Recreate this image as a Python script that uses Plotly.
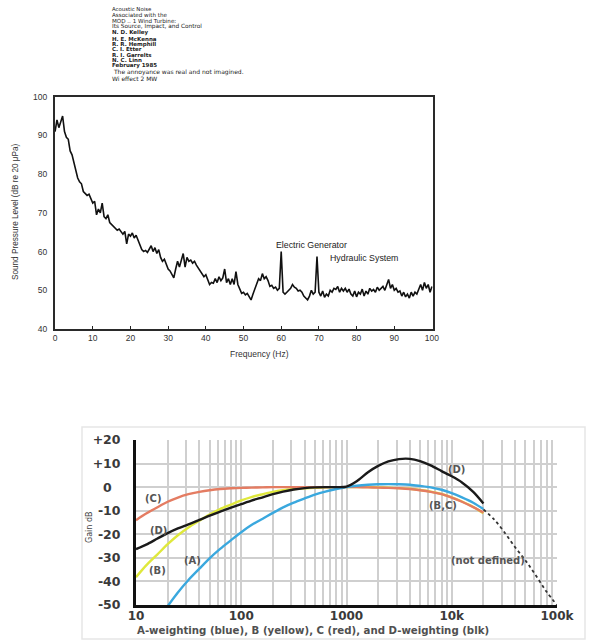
import math
import plotly.graph_objects as go

W, H = 589, 641


def pxx(x):
    return x / W


def pyy(y):
    return 1 - y / H


# ---------------- header text ----------------
header_lines = [
    "Acoustic Noise",
    "Associated with the",
    "MOD .. 1 Wind Turbine:",
    "Its Source, Impact, and Control",
    "N. D. Kelley",
    "H. E. McKenna",
    "R. R. Hemphill",
    "C. I. Etter",
    "R. I. Garrelts",
    "N. C. Linn",
    "February 1985",
    " The annoyance was real and not imagined.",
    "Wi effect 2 MW",
]
header_bold = [False, False, False, False, True, True, True, True, True, True, True, False, False]
header_size = [5.4, 5.6, 5.6, 5.8, 5.5, 5.5, 5.5, 5.5, 5.5, 5.5, 5.5, 6.0, 6.0]
header_y = [9.0, 15.3, 21.2, 27.0, 32.8, 38.5, 44.0, 49.4, 54.8, 60.2, 65.6, 71.6, 78.4]

# ---------------- spectrum (top chart) ----------------
spec_freq = [i * 0.5 for i in range(201)]
spec_level = [
    91, 94, 92, 93.5, 95, 91, 89.5, 89, 86, 85, 83, 80.5, 79, 78, 77.5, 75.5, 75, 74.5, 74.8, 73.5,
    72.5, 73, 69.5, 71, 70, 72.5, 69, 68.5, 69.5, 67.5, 67, 66.5, 66, 65.5, 65.8, 65, 64.5, 65.2, 62, 64.5,
    64, 64.8, 63.5, 64.2, 63, 61.5, 60.5, 60, 60.3, 59.8, 60.5, 61.5, 60, 61, 59.5, 60.5, 58.5, 57.5, 58, 56.5,
    55.5, 55, 54, 53.2, 55.5, 57.5, 56, 58, 59.5, 56, 58.5, 57.5, 57.8, 57, 57.5, 56.5, 55.8, 55, 54.5, 53.5,
    54, 52.5, 51.5, 52, 51.8, 53, 52, 53.5, 52.5, 53.2, 55.5, 52, 53, 51.5, 53, 51.5, 54.8, 51.5, 50.5, 49.2,
    49.5, 48.8, 49.2, 48.5, 47.5, 49, 50.5, 51.5, 53, 52.5, 54.3, 53, 53.5, 52.5, 51, 51.3, 50.5, 50.8, 50, 50.5,
    60, 49.5, 49, 49.5, 50, 50.5, 51.5, 50.8, 50.5, 49.8, 50, 49.5, 48.5, 48, 47.5, 48.5, 50, 49, 49.5, 58.7,
    49.5, 48.5, 49.8, 48.2, 49, 48.5, 50, 49.5, 50.5, 50.2, 51, 49.5, 50.5, 49.8, 50.5, 49.5, 50.3, 49, 48.5, 49.8,
    48.3, 49.5, 49, 50.3, 48.5, 49.8, 49, 50.5, 49.8, 50.2, 49.5, 50.8, 50, 50.5, 51, 50, 51.5, 52.8, 50.5, 51.5,
    50, 50.5, 49.5, 49.8, 48.5, 49.5, 48.3, 49, 48, 49.5, 48.5, 49.5, 49, 50.5, 51.5, 50, 52, 50.5, 51.5, 49.5,
    51,
]
spec_xticks = [0, 10, 20, 30, 40, 50, 60, 70, 80, 90, 100]
spec_yticks = [40, 50, 60, 70, 80, 90, 100]

# ---------------- weighting curves (bottom chart) ----------------
w_freq = [10, 12.5, 16, 20, 25, 31.5, 40, 50, 63, 80, 100, 125, 160, 200, 250, 315, 400, 500, 630, 800,
          1000, 1250, 1600, 2000, 2500, 3150, 4000, 5000, 6300, 8000, 10000, 12500, 16000, 20000]
w_A = [None, None, None, -50.5, -44.7, -39.4, -34.6, -30.2, -26.2, -22.5, -19.1, -16.1, -13.4, -10.9, -8.6,
       -6.6, -4.8, -3.2, -1.9, -0.8, 0, 0.6, 1.0, 1.2, 1.3, 1.2, 1.0, 0.5, -0.1, -1.1, -2.5, -4.3, -6.6, -9.3]
w_B = [-38.2, -33.2, -28.5, -24.2, -20.4, -17.1, -14.2, -11.6, -9.3, -7.4, -5.6, -4.2, -3.0, -2.0, -1.3,
       -0.8, -0.5, -0.3, -0.1, 0, 0, 0, 0, -0.1, -0.2, -0.4, -0.7, -1.2, -1.9, -2.9, -4.3, -6.1, -8.4, -11.1]
w_C = [-14.0, -11.2, -8.5, -6.2, -4.4, -3.0, -2.0, -1.3, -0.8, -0.5, -0.3, -0.2, -0.1, 0, 0,
       0, 0, 0, 0, 0, 0, 0, -0.1, -0.2, -0.3, -0.5, -0.8, -1.3, -2.0, -3.0, -4.4, -6.2, -8.5, -10.8]
w_D = [-26.3, -24.4, -21.8, -19.5, -17.5, -15.8, -13.9, -12.1, -10.4, -8.7, -7.2, -5.7, -4.3, -3.0, -1.9,
       -1.0, -0.4, -0.1, 0, 0, 0.2, 2.5, 6.3, 9.0, 10.9, 11.9, 12.0, 11.0, 9.2, 6.8, 4.6, 2.0, -2.0, -6.9]
nd_freq = [20000, 25000, 31500, 40000, 50000, 63000, 80000, 100000]
nd_level = [-9.5, -13.5, -19, -25.5, -31, -37.5, -44.5, -50]

w_xticks = [m * d for d in (10, 100, 1000, 10000) for m in range(1, 10)] + [100000]
w_xlabels = {10: "10", 100: "100", 1000: "1000", 10000: "10k", 100000: "100k"}
w_yticks = [20, 10, 0, -10, -20, -30, -40, -50]
w_ylabels = ["+20", "+10", "0\u00a0\u00a0", "-10", "-20", "-30", "-40", "-50"]

caption = "A-weighting (blue), B (yellow), C (red), and D-weighting (blk)"

# ---------------- figure ----------------
fig = go.Figure()

fig.add_trace(go.Scatter(x=spec_freq, y=spec_level, mode="lines",
                         line=dict(color="#111111", width=1.6), xaxis="x", yaxis="y",
                         showlegend=False, hoverinfo="skip"))

curves = [
    (w_B, "#dfe83c"),
    (w_C, "#e47c62"),
    (w_A, "#3aa8de"),
    (w_D, "#1a1a1a"),
]
for vals, col in curves:
    fig.add_trace(go.Scatter(x=w_freq, y=vals, mode="lines",
                             line=dict(color=col, width=2.4, shape="spline", smoothing=0.8),
                             xaxis="x2", yaxis="y2", showlegend=False, hoverinfo="skip",
                             connectgaps=False))
fig.add_trace(go.Scatter(x=nd_freq, y=nd_level, mode="lines",
                         line=dict(color="#333333", width=1.8, dash="dot", shape="spline"),
                         xaxis="x2", yaxis="y2", showlegend=False, hoverinfo="skip"))

top_font = dict(family="Liberation Sans, Arial", size=8.5, color="#333333")
bot_font = dict(family="DejaVu Sans", size=12.5, color="#3a3a3a", weight="bold")
botx_font = dict(family="DejaVu Sans", size=12, color="#3a3a3a", weight="bold")

fig.update_layout(
    width=W, height=H, margin=dict(l=0, r=0, t=0, b=0, autoexpand=False),
    paper_bgcolor="white", plot_bgcolor="white",
    xaxis=dict(domain=[pxx(54.7), pxx(432.7)], range=[-0.1, 100.2], tickmode="array",
               tickvals=spec_xticks, ticks="inside", ticklen=3, tickwidth=1.2, tickcolor="#222",
               showgrid=False, zeroline=False, showline=True, linecolor="#2a2a2a", linewidth=1.6,
               mirror=True, tickfont=top_font, anchor="y", automargin=False),
    yaxis=dict(domain=[pyy(329), pyy(96.7)], range=[40, 100], tickmode="array", tickvals=spec_yticks,
               ticks="", showgrid=False, zeroline=False, showline=True, linecolor="#2a2a2a",
               linewidth=1.6, mirror=True, tickfont=top_font, anchor="x", ticklabelstandoff=4,
               automargin=False),
    xaxis2=dict(type="log", domain=[pxx(136), pxx(557)], range=[1, 5], tickmode="array",
                tickvals=w_xticks, ticktext=[w_xlabels.get(v, "") for v in w_xticks],
                showgrid=True, gridcolor="#cfcfcf", gridwidth=1.6, zeroline=False,
                showline=True, linecolor="#111111", linewidth=2.5, ticks="", tickfont=botx_font,
                anchor="y2", automargin=False, ticklabelstandoff=-2),
    yaxis2=dict(domain=[pyy(605), pyy(440)], range=[-50, 20], tickmode="array", tickvals=w_yticks,
                ticktext=w_ylabels, showgrid=True, gridcolor="#cfcfcf", gridwidth=1.6,
                zeroline=False, showline=True, linecolor="#111111", linewidth=3, ticks="",
                tickfont=bot_font, anchor="x2", ticklabelstandoff=10, automargin=False),
)

ann = []
for t, b, s, yy in zip(header_lines, header_bold, header_size, header_y):
    ann.append(dict(text=t, x=pxx(110), y=pyy(yy), xref="paper", yref="paper",
                    xanchor="left", yanchor="middle", showarrow=False,
                    font=dict(family="DejaVu Sans", size=s, color="#222222",
                              weight="bold" if b else "normal")))

ann += [
    dict(text="Electric Generator", x=68.1, y=61.6, xref="x", yref="y", showarrow=False,
         font=dict(family="Liberation Sans, Arial", size=8.8, color="#222")),
    dict(text="Hydraulic System", x=82.1, y=58.4, xref="x", yref="y", showarrow=False,
         font=dict(family="Liberation Sans, Arial", size=8.8, color="#222")),
    dict(text="Frequency (Hz)", x=pxx(259), y=pyy(353.5), xref="paper", yref="paper", showarrow=False,
         font=dict(family="Liberation Sans, Arial", size=8.5, color="#333")),
    dict(text="Sound Pressure Level (dB re 20 \u03bcPa)", x=pxx(15), y=pyy(212), xref="paper",
         yref="paper", showarrow=False, textangle=-90,
         font=dict(family="Liberation Sans, Arial", size=8.2, color="#333")),
    dict(text="Gain dB", x=pxx(89), y=pyy(527), xref="paper", yref="paper", showarrow=False,
         textangle=-90, font=dict(family="DejaVu Sans", size=8, color="#444")),
    dict(text=caption, x=pxx(313), y=pyy(630), xref="paper", yref="paper", showarrow=False,
         font=dict(family="DejaVu Sans", size=10.2, color="#505050", weight="bold")),
]

lab_font = dict(family="DejaVu Sans", size=10, color="#555555", weight="bold")
curve_labels = [
    ("(C)", 14.4, -5.0),
    ("(D)", 16.3, -18.2),
    ("(A)", 34.6, -31.2),
    ("(B)", 16.1, -35.5),
    ("(D)", 11100, 7.3),
    ("(B,C)", 8300, -7.9),
    ("(not defined)", 22000, -31.3),
]
for t, fx, fy in curve_labels:
    ann.append(dict(text=t, x=math.log10(fx), y=fy, xref="x2", yref="y2", showarrow=False,
                    font=lab_font))

for a in ann:
    a.setdefault("xanchor", "center")
    a.setdefault("yanchor", "middle")

fig.update_layout(annotations=ann)

fig.add_shape(type="rect", xref="paper", yref="paper", x0=pxx(82), x1=pxx(585), y0=pyy(639),
              y1=pyy(427), line=dict(color="#e6e6e6", width=1.5), layer="below")

fig.write_html("out.html", config={"displayModeBar": False},
               post_script="document.body.style.margin='0px';")
